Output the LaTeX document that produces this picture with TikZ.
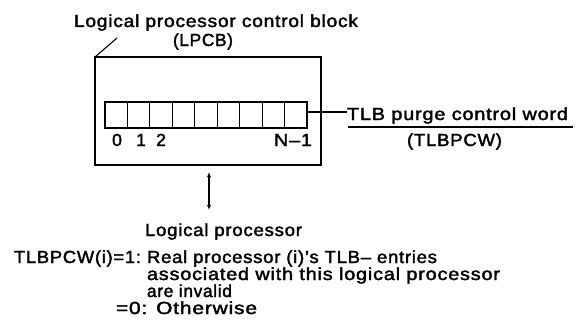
\documentclass[tikz,border=0pt]{standalone}
\usepackage{fontspec}
\usepackage{graphicx}
\setmainfont[LetterSpace=4,FakeBold=2]{Liberation Sans}
\usetikzlibrary{arrows.meta,calc}
\newcommand\fw[2]{\resizebox{#1}{\height}{#2}}
\begin{document}
\begin{tikzpicture}[x=1pt,y=-1pt,
  every node/.style={inner sep=0pt,outer sep=0pt,font=\fontsize{17.5}{17.5}\selectfont},
  line/.style={line width=1.1pt},
  cell/.style={draw,line width=1.1pt,minimum width=22.44pt,minimum height=26pt,anchor=north west},
  lbl/.style={anchor=base west}]
\useasboundingbox (0,0) rectangle (577,329);
% outer block
\node[draw,line width=1.1pt,minimum width=226pt,minimum height=108pt,anchor=north west] (lpcb) at (95,57) {};
% register cells
\foreach \i in {1,...,9} {
  \node[cell] (c\i) at ({105+(\i-1)*22.44},102) {};
}
\node[anchor=base] (n0) at (117,146) {0};
\node[anchor=base] (n1) at (141,146) {1};
\node[anchor=base] (n2) at (161,146) {2};
\node[lbl] (nn) at (274,146) {\fw{38pt}{N–1}};
% titles
\node[lbl] (t1) at (74,27) {\fw{284pt}{Logical processor control block}};
\node[lbl] (t2) at (173,46) {\fw{60pt}{(LPCB)}};
\coordinate (lead) at (117,38);
\draw[line] (lpcb.north west) -- (lead);
% TLB purge control word
\node[lbl] (w1) at (347,120) {\fw{221pt}{TLB purge control word}};
\node[lbl] (w2) at (407,146) {\fw{95pt}{(TLBPCW)}};
\coordinate (u1) at (348,127);
\coordinate (u2) at (573,127);
\draw[line] (u1) -- (u2);
\draw[line] ([yshift=3pt]c9.east) -- ([yshift=3pt]c9.east -| w1.west);
% arrow
\coordinate (a1) at (209,172);
\coordinate (a2) at (209,210);
\draw[line,{Latex[length=5pt,width=4pt]}-{Latex[length=5pt,width=4pt]}] (a1) -- (a2);
\node[lbl] (lp) at (145,236) {\fw{157pt}{Logical processor}};
% explanation
\node[lbl] (e1) at (14,263) {\fw{127pt}{TLBPCW(i)=1:}};
\node[lbl] (e2) at (147,263) {\fw{290pt}{Real processor (i)'s TLB– entries}};
\node[lbl] (e3) at (147,280) {\fw{353pt}{associated with this logical processor}};
\node[lbl] (e4) at (147,297) {\fw{85pt}{are invalid}};
\node[lbl] (e5) at (116,314) {\fw{141pt}{=0: Otherwise}};
\end{tikzpicture}
\end{document}
